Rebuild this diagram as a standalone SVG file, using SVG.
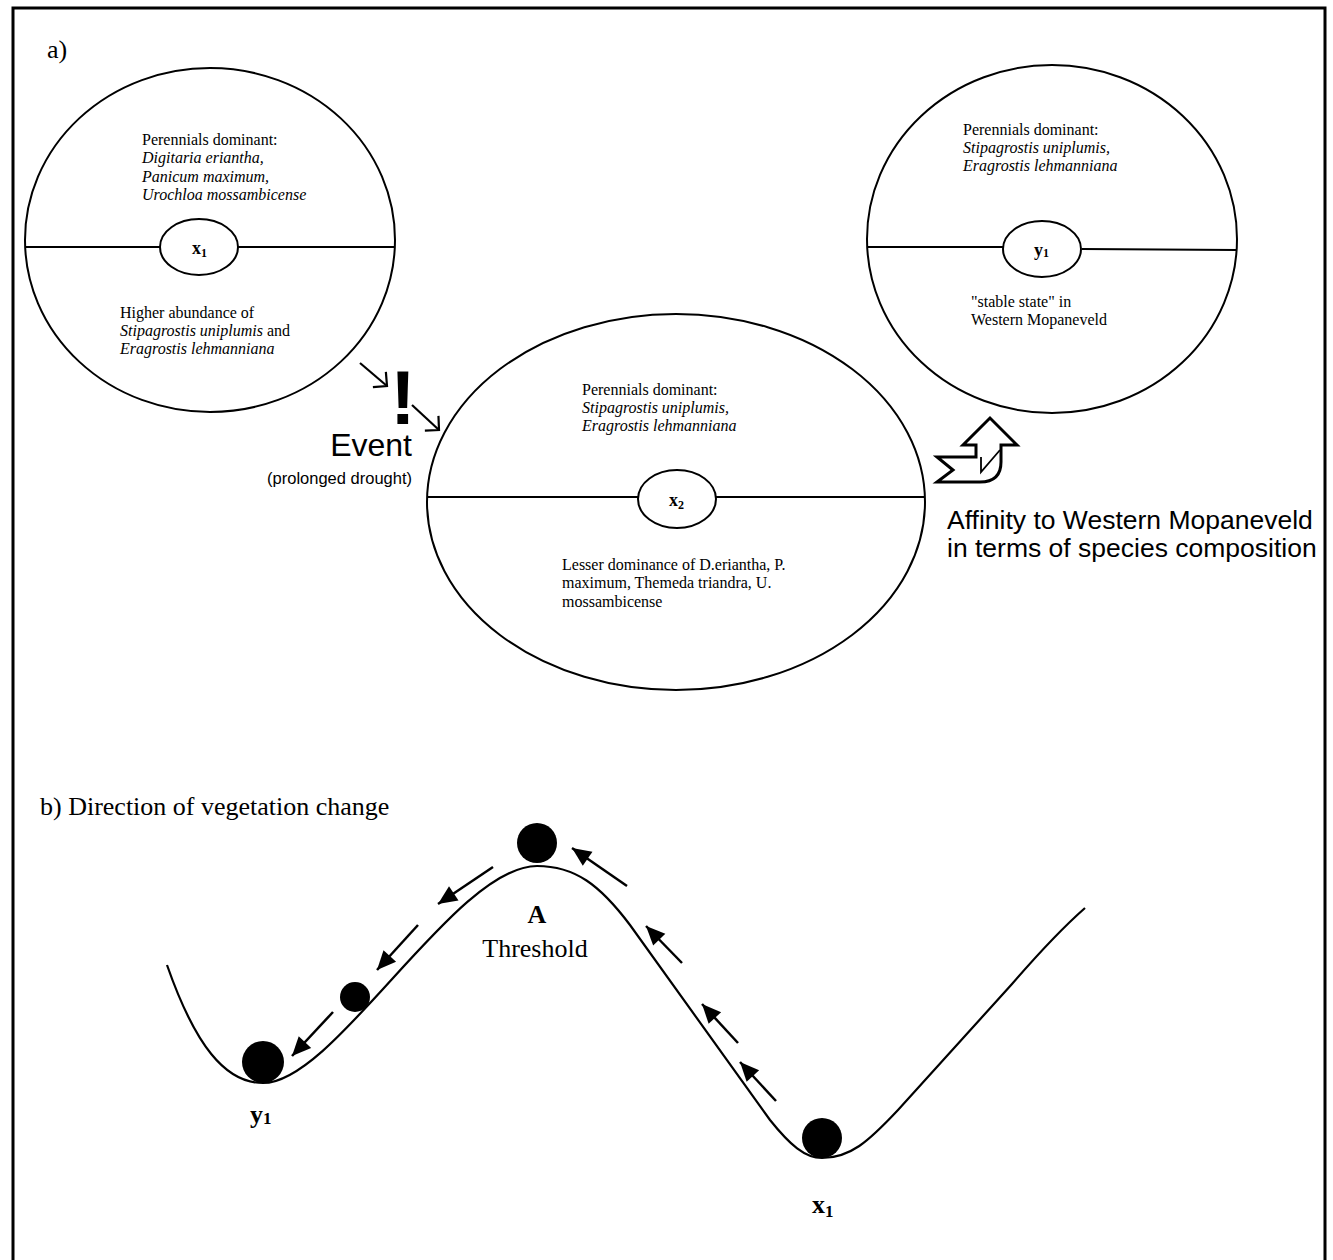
<svg xmlns="http://www.w3.org/2000/svg" width="1333" height="1260" viewBox="0 0 1333 1260">
  <style>
    .bg { fill: #ffffff; }
    .frame { fill: none; stroke: #000; stroke-width: 3; }
    .state { fill: #fff; stroke: #000; stroke-width: 2; }
    .div { stroke: #000; stroke-width: 1.8; fill: none; }
    .core { fill: #fff; stroke: #000; stroke-width: 2; }
    .t { font-family: "Liberation Serif", "Times New Roman", serif; font-size: 16px; fill: #000; }
    .i { font-style: italic; }
    .lab { font-family: "Liberation Serif", "Times New Roman", serif; font-weight: bold; fill: #000; }
    .head { font-family: "Liberation Serif", "Times New Roman", serif; font-size: 26px; fill: #000; }
    .sans { font-family: "Liberation Sans", Arial, sans-serif; fill: #000; }
    .land { fill: none; stroke: #000; stroke-width: 2.2; }
    .ball { fill: #000; }
    .flow { stroke: #000; stroke-width: 2.5; fill: none; marker-end: url(#tri); }
    .hit { stroke: #000; stroke-width: 2.2; fill: none; marker-end: url(#open); }
    .bent { fill: #fff; stroke: #000; stroke-width: 3; stroke-linejoin: miter; }
  </style>
  <defs>
    <marker id="tri" markerUnits="userSpaceOnUse" viewBox="-20 -10 22 20" refX="0" refY="0" markerWidth="22" markerHeight="20" orient="auto">
      <path d="M0,0 L-19,-8.5 L-19,8.5 Z" fill="#000"/>
    </marker>
    <marker id="open" markerUnits="userSpaceOnUse" viewBox="-14 -12 16 24" refX="0" refY="0" markerWidth="16" markerHeight="24" orient="auto">
      <path d="M-10,-10 L0,0 L-10,10" fill="none" stroke="#000" stroke-width="2.2"/>
    </marker>
  </defs>

  <rect class="bg" x="0" y="0" width="1333" height="1260"/>
  <!-- outer frame, open at the bottom edge -->
  <path class="frame" d="M13,1260 V8 H1325 V1260"/>

  <text class="head" x="47" y="58">a)</text>

  <!-- state x1 -->
  <g id="state-x1">
    <ellipse class="state" cx="210" cy="240" rx="185" ry="172"/>
    <path class="div" d="M26,247 H160 M238,247 H395"/>
    <ellipse class="core" cx="199" cy="247" rx="39" ry="28"/>
    <text class="lab" x="192" y="254" font-size="18">x<tspan font-size="12" dy="3">1</tspan></text>
    <text class="t" x="142" y="145">Perennials dominant:</text>
    <text class="t i" x="142" y="163">Digitaria eriantha,</text>
    <text class="t i" x="142" y="182">Panicum maximum,</text>
    <text class="t i" x="142" y="200">Urochloa mossambicense</text>
    <text class="t" x="120" y="318">Higher abundance of</text>
    <text class="t" x="120" y="336"><tspan class="i">Stipagrostis uniplumis</tspan> and</text>
    <text class="t i" x="120" y="354">Eragrostis lehmanniana</text>
  </g>

  <!-- state x2 -->
  <g id="state-x2">
    <ellipse class="state" cx="676" cy="502" rx="249" ry="188"/>
    <path class="div" d="M428,497 H638 M716,497 H925"/>
    <ellipse class="core" cx="677" cy="499" rx="39" ry="29"/>
    <text class="lab" x="669" y="506" font-size="18">x<tspan font-size="12" dy="3">2</tspan></text>
    <text class="t" x="582" y="395">Perennials dominant:</text>
    <text class="t i" x="582" y="413">Stipagrostis uniplumis,</text>
    <text class="t i" x="582" y="431">Eragrostis lehmanniana</text>
    <text class="t" x="562" y="570">Lesser dominance of D.eriantha, P.</text>
    <text class="t" x="562" y="588">maximum, Themeda triandra, U.</text>
    <text class="t" x="562" y="607">mossambicense</text>
  </g>

  <!-- state y1 -->
  <g id="state-y1">
    <ellipse class="state" cx="1052" cy="239" rx="185" ry="174"/>
    <path class="div" d="M868,247 H1003 M1082,249 L1237,250"/>
    <ellipse class="core" cx="1042" cy="249" rx="39" ry="28"/>
    <text class="lab" x="1034" y="256" font-size="18">y<tspan font-size="12" dy="1">1</tspan></text>
    <text class="t" x="963" y="135">Perennials dominant:</text>
    <text class="t i" x="963" y="153">Stipagrostis uniplumis,</text>
    <text class="t i" x="963" y="171">Eragrostis lehmanniana</text>
    <text class="t" x="971" y="307">"stable state" in</text>
    <text class="t" x="971" y="325">Western Mopaneveld</text>
  </g>

  <!-- disturbance event -->
  <g id="event">
    <text class="sans" x="403" y="424" font-size="76" font-weight="bold" text-anchor="middle">!</text>
    <text class="sans" x="412" y="456" font-size="32" text-anchor="end">Event</text>
    <text class="sans" x="412" y="484" font-size="16.5" text-anchor="end">(prolonged drought)</text>
  </g>

  <!-- shift towards Western Mopaneveld -->
  <g id="affinity">
    <path class="bent" d="M937,457 L976,457 L976,445 L963,445 L990,418 L1017,445 L1001,445 L1001,462 Q1001,482 980,482 L937,482 L953,470 Z"/>
    <path class="div" stroke-width="3" d="M981,457 L981,472 L1000,450"/>
    <text class="sans" x="947" y="529" font-size="26.5">Affinity to Western Mopaneveld</text>
    <text class="sans" x="947" y="557" font-size="26.5">in terms of species composition</text>
  </g>

  <text class="head" x="40" y="815">b) Direction of vegetation change</text>

  <!-- stability landscape -->
  <g id="landscape">
    <path class="land" d="M167,965 C195,1045 225,1083 263,1083 C335,1083 455,866 537,866 C575,866 600,885 630,925 L770,1120 C790,1145 805,1158 822,1158 C850,1158 868,1142 898,1110 L1012,984 C1038,954 1060,930 1085,908"/>
  </g>

  <g id="ball-threshold"><circle class="ball" cx="537" cy="843" r="20"/></g>
  <g id="ball-mid"><circle class="ball" cx="355" cy="997" r="15"/></g>
  <g id="ball-y1"><circle class="ball" cx="263" cy="1062" r="21"/></g>
  <g id="ball-x1"><circle class="ball" cx="822" cy="1138" r="20"/></g>

  <g id="label-A">
    <text class="lab" x="537" y="923" font-size="26" text-anchor="middle">A</text>
    <text class="head" x="535" y="957" font-size="27" text-anchor="middle">Threshold</text>
  </g>
  <g id="label-y1">
    <text class="lab" x="250" y="1123" font-size="26">y<tspan font-size="17" dy="1">1</tspan></text>
  </g>
  <g id="label-x1">
    <text class="lab" x="812" y="1213" font-size="26">x<tspan font-size="17" dy="4">1</tspan></text>
  </g>

  <!-- connectors -->
  <g id="connectors">
    <path class="hit" d="M360,363 L387,386"/>
    <path class="hit" d="M412,405 L439,430"/>
    <path class="flow" d="M627,886 L572,848"/>
    <path class="flow" d="M493,867 L438,904"/>
    <path class="flow" d="M418,925 L377,970"/>
    <path class="flow" d="M333,1012 L292,1056"/>
    <path class="flow" d="M682,963 L646,926"/>
    <path class="flow" d="M738,1043 L702,1004"/>
    <path class="flow" d="M776,1101 L740,1062"/>
  </g>
</svg>
